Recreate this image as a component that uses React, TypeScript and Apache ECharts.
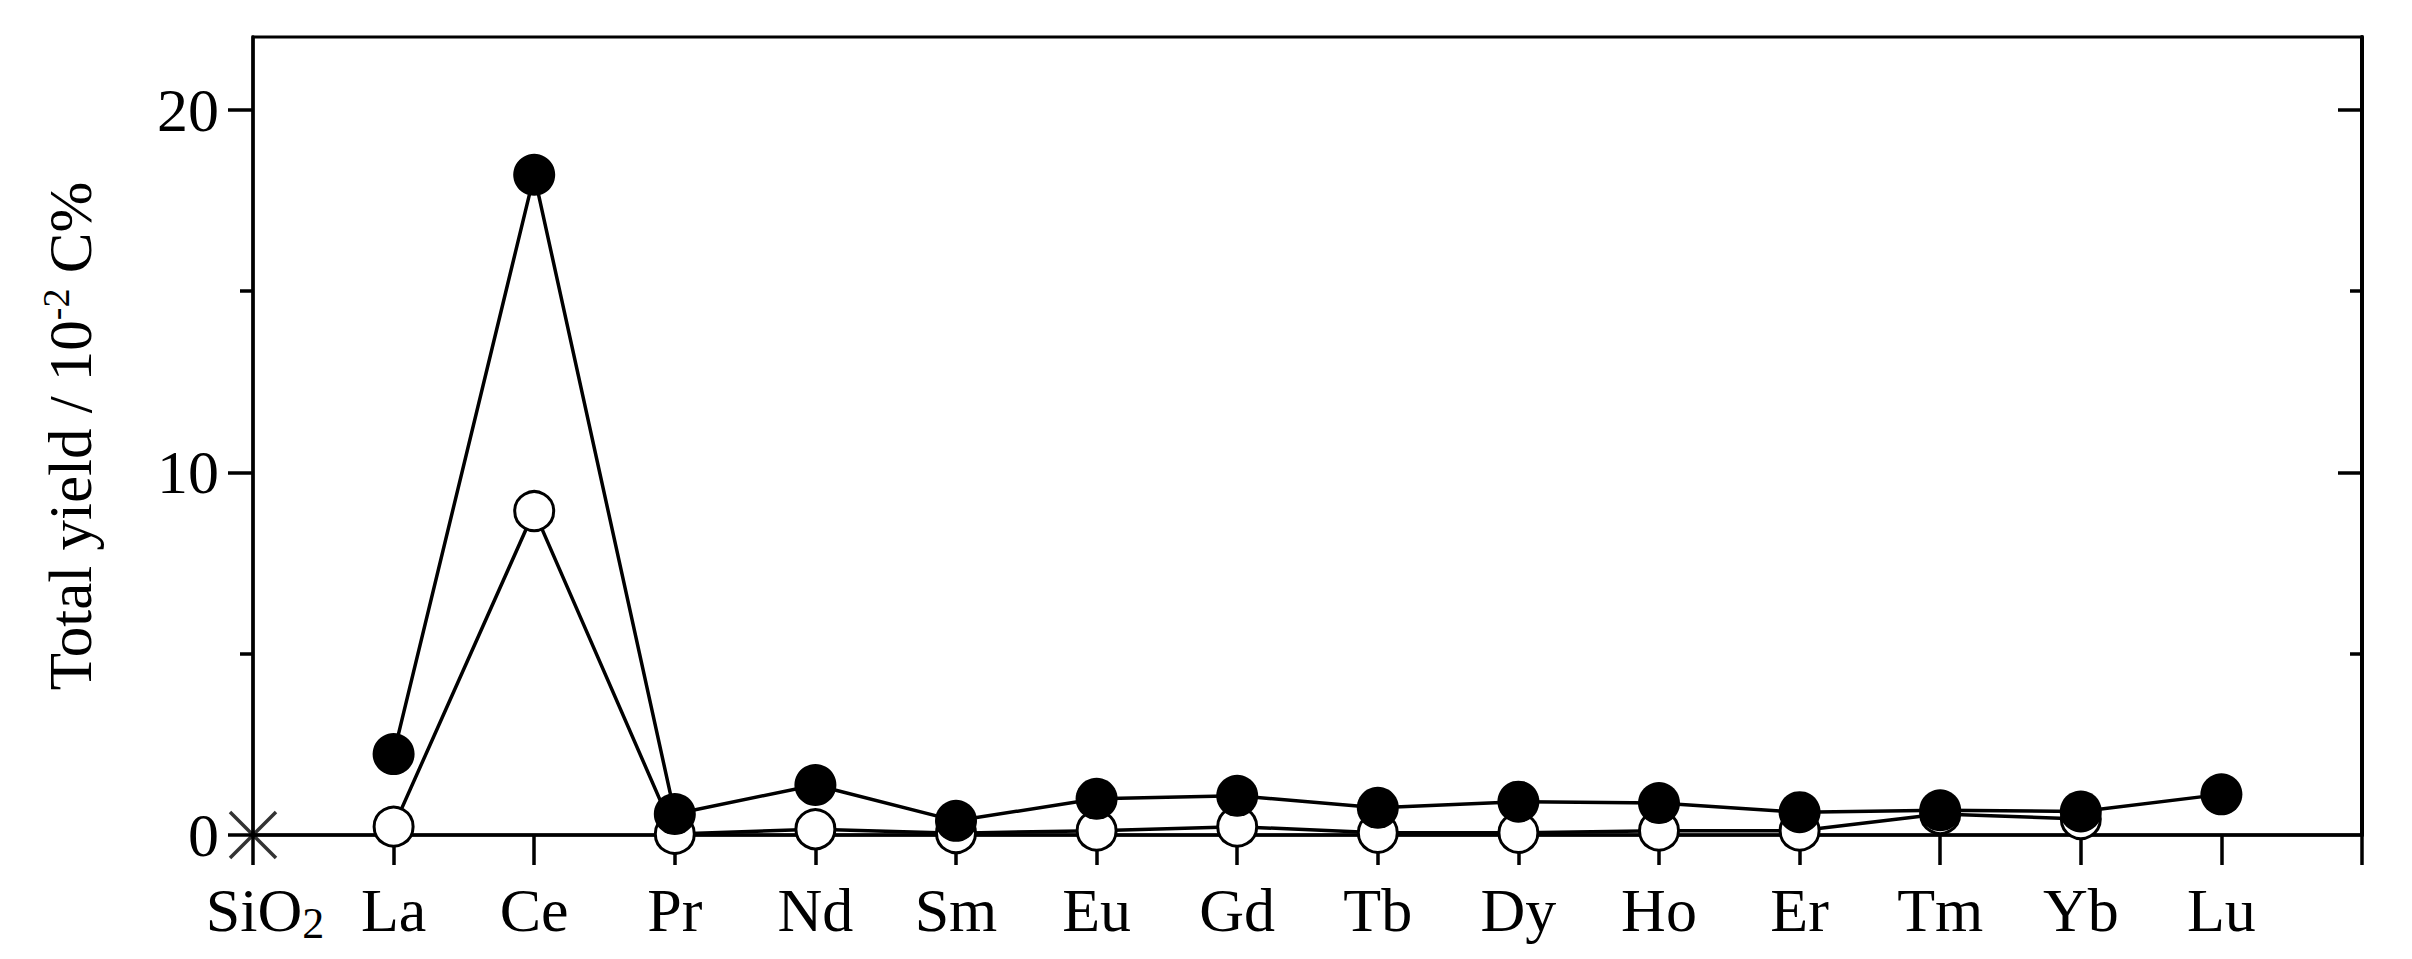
import React, { useEffect, useRef } from 'react';
import * as echarts from 'echarts';

// Categories along the x axis (last empty slot = right frame edge)
const elements = ['SiO2', 'La', 'Ce', 'Pr', 'Nd', 'Sm', 'Eu', 'Gd', 'Tb', 'Dy', 'Ho', 'Er', 'Tm', 'Yb', 'Lu', ''];
// Filled circles (total yield, 10^-2 C%)
const filledValues = [null, 2.23, 18.2, 0.58, 1.38, 0.39, 1.0, 1.08, 0.75, 0.92, 0.88, 0.63, 0.68, 0.65, 1.12];
// Open circles
const openValues = [null, 0.23, 8.93, 0.03, 0.16, 0.05, 0.12, 0.23, 0.06, 0.06, 0.12, 0.12, 0.58, 0.44, null];
// Cross marker at SiO2
const crossPoints = [['SiO2', 0]];
// Y ticks
const yMajorTicks = [0, 10, 20];
const yMinorTicks = [5, 15];
const yMin = 0;
const yMax = 22;

const FONT = "'Liberation Serif', 'Times New Roman', serif";

export default function App() {
  const ref = useRef<HTMLDivElement>(null);
  useEffect(() => {
    if (!ref.current) return;
    const chart = echarts.init(ref.current, null, { renderer: 'svg' });
    const baseY = {
      type: 'value',
      min: yMin,
      max: yMax,
      splitLine: { show: false },
    };
    chart.setOption({
      animation: false,
      backgroundColor: '#fff',
      grid: {
        left: 253,
        right: 50,
        top: 37,
        bottom: 124,
        show: true,
        borderColor: '#000',
        borderWidth: 3,
        backgroundColor: 'transparent',
      },
      xAxis: {
        type: 'category',
        data: elements,
        boundaryGap: false,
        axisLine: { lineStyle: { color: '#000', width: 3.5 } },
        axisTick: { show: true, interval: 0, length: 30, lineStyle: { color: '#000', width: 3.5 } },
        axisLabel: {
          interval: 0,
          margin: 40,
          color: '#000',
          fontFamily: FONT,
          fontSize: 62,
          formatter: (v: string) => (v === 'SiO2' ? '{p|SiO}{s|2}' : v ? `{m|${v}}` : ''),
          rich: {
            m: { fontFamily: FONT, fontSize: 62, color: '#000', lineHeight: 70 },
            p: { fontFamily: FONT, fontSize: 62, color: '#000', lineHeight: 70, padding: [0, 0, 0, 24] },
            s: { fontFamily: FONT, fontSize: 44, color: '#000', lineHeight: 26, verticalAlign: 'bottom' },
          },
        },
        splitLine: { show: false },
      },
      yAxis: [
        {
          ...baseY,
          position: 'left',
          axisLine: { show: true, lineStyle: { color: '#000', width: 3.5 } },
          axisTick: { show: true, customValues: yMajorTicks, length: 25, lineStyle: { color: '#000', width: 3.5 } },
          axisLabel: {
            customValues: yMajorTicks,
            margin: 34,
            color: '#000',
            fontFamily: FONT,
            fontSize: 62,
          },
          name: 'Total yield / 10{sup|-2} C%',
          nameLocation: 'middle',
          nameRotate: 90,
          nameGap: 150,
          nameTextStyle: {
            color: '#000',
            fontFamily: FONT,
            fontSize: 61,
            lineHeight: 66,
            rich: {
              sup: { fontFamily: FONT, fontSize: 38, color: '#000', lineHeight: 30, verticalAlign: 'top' },
            },
          },
        },
        {
          ...baseY,
          position: 'left',
          axisLine: { show: false },
          axisTick: { show: true, customValues: yMinorTicks, length: 13, lineStyle: { color: '#000', width: 3.5 } },
          axisLabel: { show: false },
        },
        {
          ...baseY,
          position: 'right',
          axisLine: { show: true, lineStyle: { color: '#000', width: 4 } },
          axisTick: { show: true, inside: true, customValues: [10, 20], length: 24, lineStyle: { color: '#000', width: 3.5 } },
          axisLabel: { show: false },
        },
        {
          ...baseY,
          position: 'right',
          axisLine: { show: false },
          axisTick: { show: true, inside: true, customValues: yMinorTicks, length: 12, lineStyle: { color: '#000', width: 3.5 } },
          axisLabel: { show: false },
        },
      ],
      series: [
        {
          type: 'line',
          name: 'open',
          data: openValues,
          yAxisIndex: 0,
          symbol: 'circle',
          symbolSize: 39,
          showAllSymbol: true,
          lineStyle: { color: '#000', width: 3.5 },
          itemStyle: { color: '#fff', borderColor: '#000', borderWidth: 3 },
          z: 3,
        },
        {
          type: 'line',
          name: 'filled',
          data: filledValues,
          yAxisIndex: 0,
          symbol: 'circle',
          symbolSize: 42,
          showAllSymbol: true,
          lineStyle: { color: '#000', width: 3.5 },
          itemStyle: { color: '#000', borderColor: '#000', borderWidth: 0 },
          z: 4,
        },
        {
          type: 'scatter',
          name: 'SiO2',
          data: crossPoints,
          yAxisIndex: 0,
          symbol: 'path://M0,0L10,10M10,0L0,10',
          symbolSize: 46,
          itemStyle: { color: 'none', borderColor: '#000', borderWidth: 3.5 },
          z: 5,
        },
      ],
    });
    return () => chart.dispose();
  }, []);
  return (
    <div
      ref={ref}
      style={{ position: 'fixed', left: 0, top: 0, width: 2412, height: 959, background: '#fff' }}
    />
  );
}
